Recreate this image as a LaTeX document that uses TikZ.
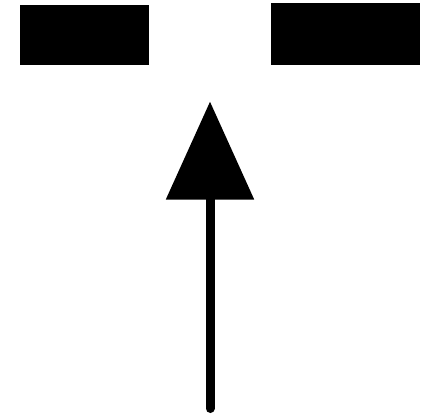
\documentclass[tikz,border=0pt]{standalone}
\usetikzlibrary{arrows.meta}

\begin{document}
\begin{tikzpicture}[
        x=1pt, y=-1pt,
        block/.style={fill=black, inner sep=0pt},
        pointer/.style={line width=9pt, line cap=round,
                        -{Triangle[length=98pt, width=86pt]}},
    ]
    \useasboundingbox (0,0) rectangle (435,415);

    % --- Two blocks along the top -----------------------------------------
    \node[block, minimum width=129pt, minimum height=60pt]
        (leftblock)  at (84.5,34.5) {};
    \node[block, minimum width=149pt, minimum height=62pt]
        (rightblock) at (345.5,34) {};

    % --- Upward arrow between them ----------------------------------------
    \coordinate (tail) at (210,408.5);
    \coordinate (head) at (210,101.5);
    \draw[pointer] (tail) -- (head);

\end{tikzpicture}
\end{document}
